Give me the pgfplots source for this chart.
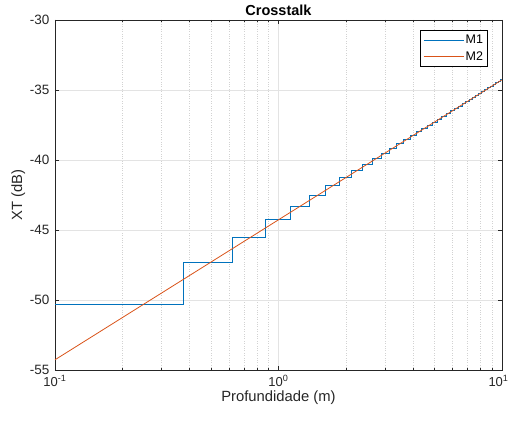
\documentclass[border=0pt]{standalone}
\usepackage{fontspec}
\setmainfont{Liberation Sans}
\usepackage{pgfplots}
\pgfplotsset{compat=1.18}
\definecolor{mblue}{rgb}{0,0.447,0.741}
\definecolor{morange}{rgb}{0.85,0.325,0.098}
\definecolor{axgray}{rgb}{0.15,0.15,0.15}
\begin{document}
\begin{tikzpicture}[x=1pt,y=1pt]
\useasboundingbox (0,0) rectangle (510,426);
\begin{axis}[at={(55pt,56pt)}, anchor=south west, scale only axis,
  width=447pt, height=350pt,
  xmode=log, xmin=0.1, xmax=10, ymin=-55, ymax=-30,
  ytick={-55,-50,-45,-40,-35,-30},
  xtick={0.1,1,10},
  xticklabels={10\textsuperscript{-1},10\textsuperscript{0},\hspace*{-7pt}10\textsuperscript{1}},
  /pgf/number format/assume math mode=true,
  grid=both,
  major grid style={gray!22, line width=0.5pt},
  minor grid style={gray!35, dotted, line width=0.5pt},
  tick align=inside,
  major tick length=4.5pt, minor tick length=2.5pt,
  tick style={axgray, line width=0.5pt},
  axis line style={axgray, line width=0.6pt},
  ticklabel style={font=\fontsize{13.5}{15}\selectfont, text=axgray},
  yticklabel style={xshift=-2pt},
  xticklabel style={yshift=-2pt, font=\fontsize{13}{15}\selectfont, inner xsep=0pt},
  label style={font=\fontsize{14.8}{16}\selectfont, text=axgray},
  xlabel={Profundidade (m)}, ylabel={XT (dB)},
  ylabel style={yshift=-2pt},
  xlabel style={yshift=2pt},
  title={\textbf{Crosstalk}},
  title style={font=\fontsize{14.5}{16}\selectfont, yshift=-5pt},
  legend style={at={(0.968,0.971)}, anchor=north east, draw=black,
    font=\fontsize{12.5}{14}\selectfont, row sep=3pt, inner xsep=3pt, inner ysep=3.5pt,
    nodes={inner sep=1.5pt}},
  legend cell align=left,
  legend image code/.code={\draw[#1] (0pt,0pt) -- (40pt,0pt);},
]
\addplot[mblue, line width=0.8pt, const plot mark left] coordinates {
(0.1,-50.29) (0.375,-47.28) (0.625,-45.52) (0.875,-44.27) (1.125,-43.30)
(1.375,-42.51) (1.625,-41.84) (1.875,-41.26) (2.125,-40.75) (2.375,-40.29)
(2.625,-39.88) (2.875,-39.50) (3.125,-39.15) (3.375,-38.83) (3.625,-38.53)
(3.875,-38.25) (4.125,-37.99) (4.375,-37.74) (4.625,-37.50) (4.875,-37.28)
(5.125,-37.07) (5.375,-36.87) (5.625,-36.67) (5.875,-36.49) (6.125,-36.31)
(6.375,-36.14) (6.625,-35.98) (6.875,-35.82) (7.125,-35.67) (7.375,-35.52)
(7.625,-35.38) (7.875,-35.24) (8.125,-35.10) (8.375,-34.98) (8.625,-34.85)
(8.875,-34.73) (9.125,-34.61) (9.375,-34.49) (9.625,-34.38) (9.875,-34.27)
(10,-34.27)
};
\addlegendentry{M1}
\addplot[morange, line width=0.8pt] coordinates {(0.1,-54.27) (10,-34.27)};
\addlegendentry{M2}
\end{axis}
\end{tikzpicture}
\end{document}
